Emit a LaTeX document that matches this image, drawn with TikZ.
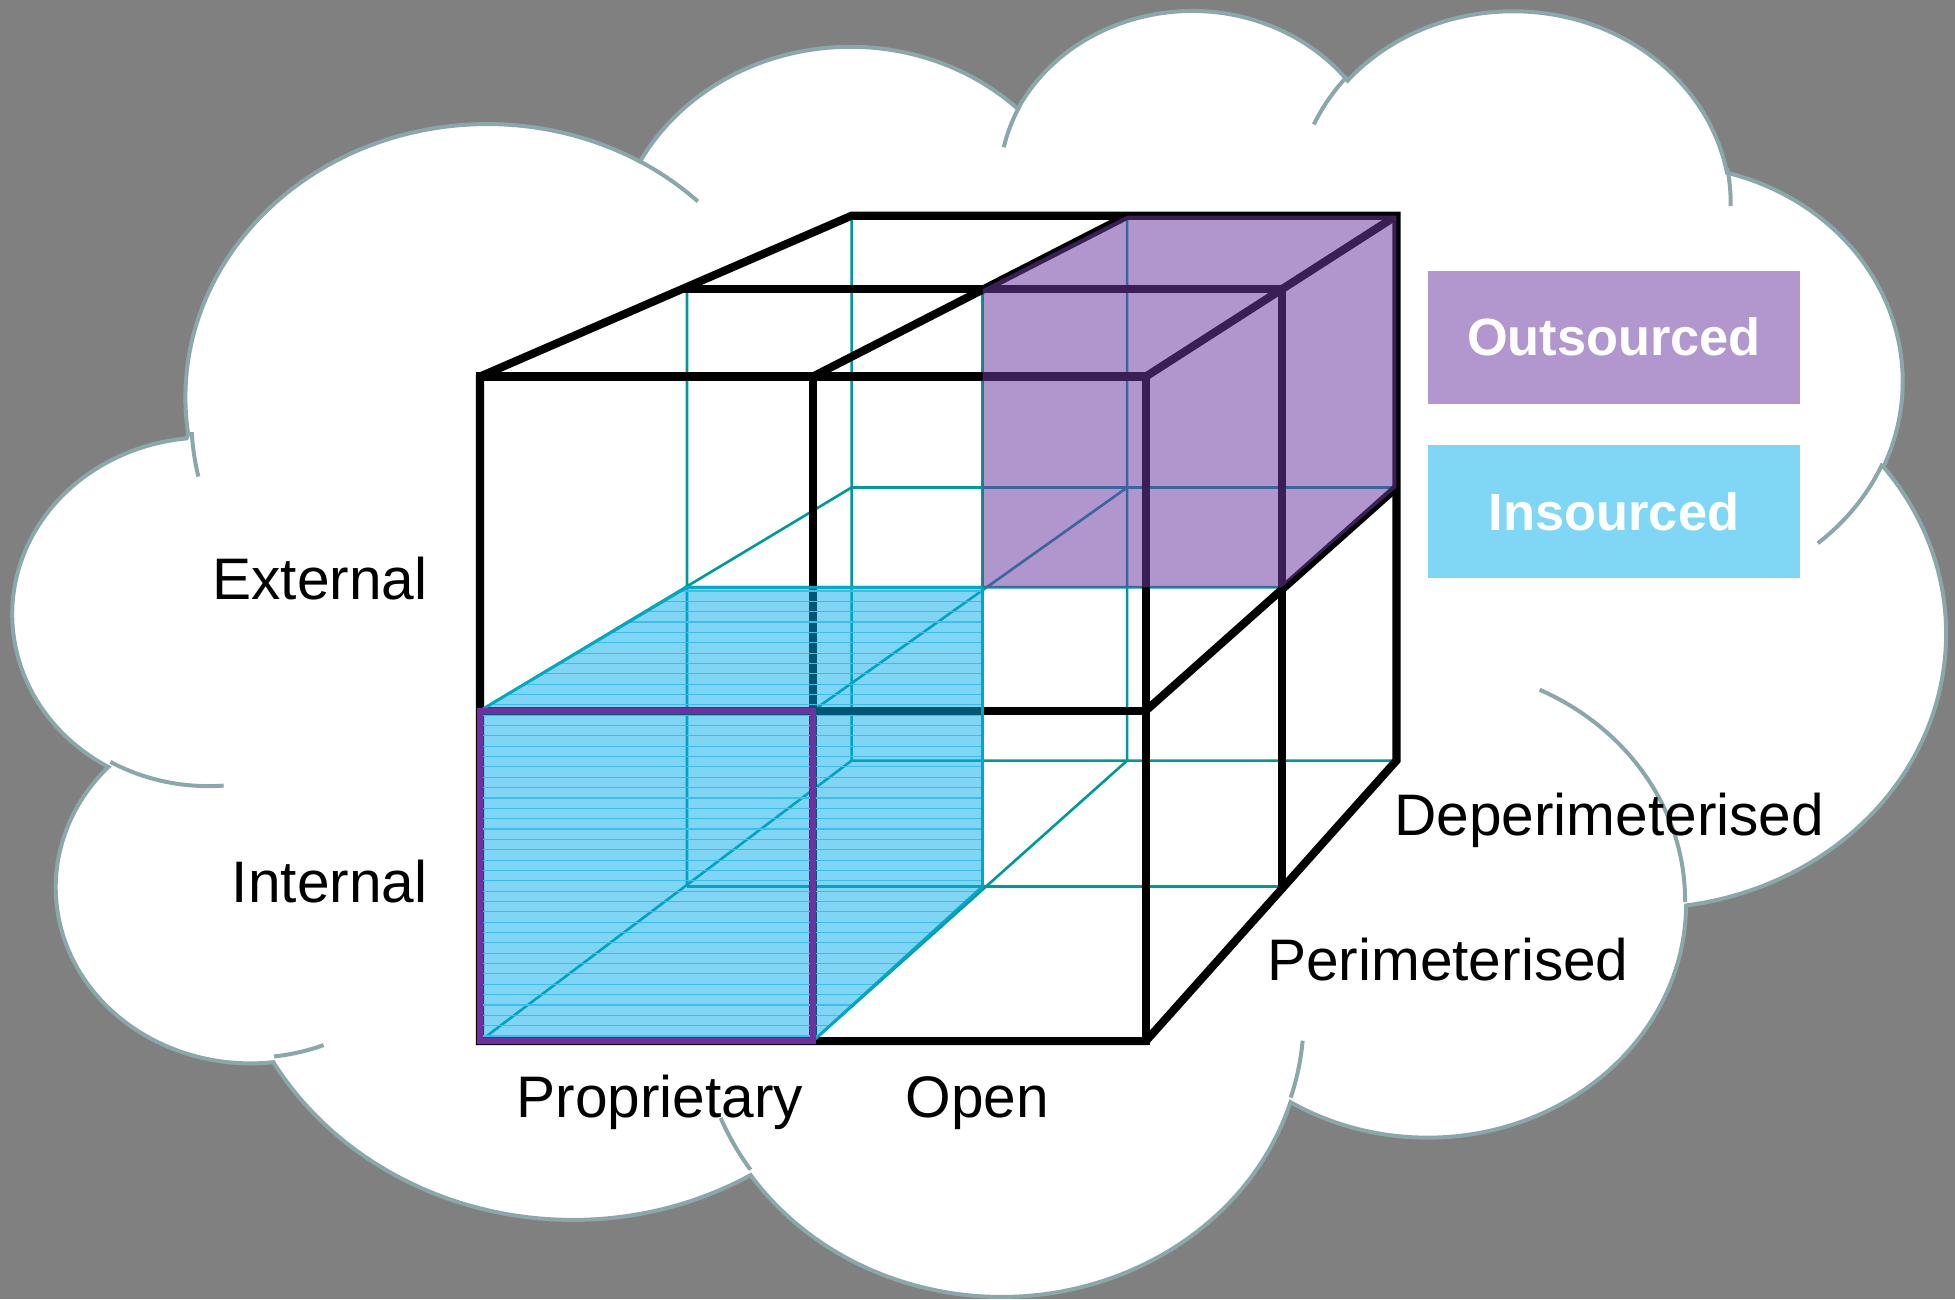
\documentclass[tikz,border=0pt]{standalone}
\usepackage{fontspec}
\setmainfont{Liberation Sans}

\definecolor{bggray}{RGB}{128,128,128}
\definecolor{cloudline}{RGB}{138,167,170}
\definecolor{tealline}{RGB}{0,153,153}
\definecolor{cyanbase}{RGB}{2,173,235}
\definecolor{purplebase}{RGB}{110,58,163}
\definecolor{legpurple}{RGB}{178,150,206}
\definecolor{legcyan}{RGB}{128,214,245}
\definecolor{outlinepurple}{RGB}{112,48,160}
\definecolor{cyanedge}{RGB}{0,168,200}
\definecolor{hatchcyan}{RGB}{60,190,235}

% cloud geometry (PowerPoint-like cloud, path space 43200 x 43200)
\newcommand\cldsx{0.035858}
\newcommand\cldsy{0.02386}
\newcommand\cldx{11.1}
\newcommand\cldy{5.5}
% point given in thousands of path units
\newcommand\cldpt[2]{({\cldx+#1*35.858},{\cldy+#2*23.86})}
\newcommand\cldarc[4]{%
  \pgfextra{%
    \pgfmathsetmacro\cldTs{atan2(#1*sin(#3),#2*cos(#3))}%
    \pgfmathsetmacro\cldTe{atan2(#1*sin(#3+#4),#2*cos(#3+#4))}%
    \pgfmathsetmacro\cldD{mod((\cldTe)-(\cldTs)+720,360)}%
    \pgfmathsetmacro\cldRx{#1*\cldsx}%
    \pgfmathsetmacro\cldRy{#2*\cldsy}%
    \pgfmathsetmacro\cldS{0-(\cldTs)}%
    \pgfmathsetmacro\cldDn{0-(\cldD)}%
    \xdef\cldGS{\cldS}\xdef\cldGD{\cldDn}\xdef\cldGRx{\cldRx}\xdef\cldGRy{\cldRy}%
  }%
  arc[start angle=\cldGS, delta angle=\cldGD, x radius=\cldGRx pt, y radius=\cldGRy pt]}

\begin{document}
\begin{tikzpicture}[x=1pt,y=-1pt,
  cloud/.style={draw=cloudline, line width=3.2pt, fill=white},
  cloudarc/.style={draw=cloudline, line width=3.2pt},
  blackedge/.style={draw=black, line width=6.5pt},
  tealedge/.style={draw=tealline, line width=2.1pt},
  hatch/.style={draw=hatchcyan, line width=0.9pt},
  lbl/.style={font=\fontsize{47}{56}\selectfont, inner sep=0pt, text=black},
  legendbox/.style={minimum width=299pt, minimum height=107pt, inner sep=0pt,
    text=white, font=\bfseries\fontsize{42}{50}\selectfont}]

\path[use as bounding box, fill=bggray] (0,0) rectangle (1568,1042);

% ---------- cloud ----------
\draw[cloud] \cldpt{3.900}{14.370}
  \cldarc{6753}{9190}{-190.48748}{123.78053}
  \cldarc{5333}{7267}{-144.10238}{89.94523}
  \cldarc{4365}{5945}{-145.80792}{99.72302}
  \cldarc{4857}{6595}{-130.98607}{117.24173}
  \cldarc{5333}{7273}{-78.70888}{109.02692}
  \cldarc{6775}{9220}{-46.26725}{130.269}
  \cldarc{5785}{7867}{0.62502}{114.03333}
  \cldarc{6752}{9215}{22.4516}{115.17255}
  \cldarc{7720}{10543}{66.24263}{75.71102}
  \cldarc{4360}{5918}{-274.94208}{146.73557}
  \cldarc{4345}{5945}{-246.8285}{152.51885}
  -- cycle;
\draw[cloudarc] \cldpt{4.693}{26.177} \cldarc{4345}{5945}{86.742}{26.4295};
\draw[cloudarc] \cldpt{6.928}{34.899} \cldarc{4360}{5918}{73.61047}{11.44747};
\draw[cloudarc] \cldpt{16.478}{39.090} \cldarc{6752}{9215}{137.62415}{14.0811};
\draw[cloudarc] \cldpt{28.827}{34.751} \cldarc{6752}{9215}{6.45327}{15.99835};
\draw[cloudarc] \cldpt{34.129}{22.954} \cldarc{5785}{7867}{-70.29235}{70.91737};
\draw[cloudarc] \cldpt{41.798}{15.354} \cldarc{5333}{7273}{30.31803}{27.7515};
\draw[cloudarc] \cldpt{38.324}{5.426} \cldarc{4857}{6595}{-13.74433}{14.8589};
\draw[cloudarc] \cldpt{29.078}{3.952} \cldarc{4857}{6595}{-149.18145}{18.19537};
\draw[cloudarc] \cldpt{22.141}{4.720} \cldarc{4365}{5945}{-163.49427}{17.68635};
\draw[cloudarc] \cldpt{14.000}{5.192} \cldarc{6753}{9190}{-66.70695}{12.31935};
\draw[cloudarc] \cldpt{4.127}{15.789} \cldarc{6753}{9190}{163.38602}{12.59018};

% ---------- grid points g<column><row><layer> ----------
\coordinate (g000) at (385,302); \coordinate (g100) at (652,302); \coordinate (g200) at (919,302);
\coordinate (g010) at (385,570); \coordinate (g110) at (652,570); \coordinate (g210) at (919,570);
\coordinate (g020) at (385,835); \coordinate (g120) at (652,835); \coordinate (g220) at (919,835);
\coordinate (g001) at (551,232); \coordinate (g101) at (788,232); \coordinate (g201) at (1028,232);
\coordinate (g011) at (551,471); \coordinate (g111) at (788,471); \coordinate (g211) at (1028,471);
\coordinate (g021) at (551,711); \coordinate (g121) at (788,711); \coordinate (g221) at (1028,711);
\coordinate (g002) at (683,173); \coordinate (g102) at (904,173); \coordinate (g202) at (1120,173);
\coordinate (g012) at (683,391); \coordinate (g112) at (904,391); \coordinate (g212) at (1120,391);
\coordinate (g022) at (683,610); \coordinate (g122) at (904,610); \coordinate (g222) at (1120,610);

% ---------- hidden (teal) edges ----------
\draw[tealedge] (g011)--(g211) (g021)--(g221) (g001)--(g021) (g101)--(g121)
  (g012)--(g212) (g022)--(g222) (g002)--(g022) (g102)--(g122)
  (g010)--(g012) (g110)--(g112) (g020)--(g022) (g120)--(g122);

% ---------- visible (black) edges ----------
\draw[blackedge, line join=miter] (g020)--(g000)--(g002)--(g202)--(g222)--(g220)--cycle;
\draw[blackedge, line cap=rect] (g000)--(g200) (g200)--(g220) (g100)--(g120)
  (g010)--(g210) (g001)--(g201) (g201)--(g221);
\draw[blackedge, line cap=butt] (g100)--(g102) (g200)--(g202) (g210)--(g212);

% ---------- insourced block ----------
\fill[cyanbase, fill opacity=0.5] (g010)--(g011)--(g111)--(g121)--(g120)--(g020)--cycle;
\begin{scope}
  \clip (g010)--(g011)--(g111)--(g121)--(g120)--(g020)--cycle;
  \foreach \n in {0,...,45} \draw[hatch] (380,{474+8.3*\n}) -- (795,{474+8.3*\n});
\end{scope}
\draw[cyanedge, line width=2.2pt] (g010)--(g011)--(g111)--(g121)--(g120)--(g020)--cycle;

% ---------- outsourced block ----------
\fill[purplebase, fill opacity=0.533] (g101)--(g102)--(g202)--(g212)--(g211)--(g111)--cycle;

\draw[outlinepurple, line width=5pt, line join=miter] (g010) rectangle (g120);

% ---------- labels ----------
\node[lbl, anchor=base east] (ext) at (343,481) {External};
\node[lbl, anchor=base east] (int) at (343,724) {Internal};
\node[lbl, anchor=base west] (prop) at (414,896) {Proprietary};
\node[lbl, anchor=base west] (open) at (726,896) {Open};
\node[lbl, anchor=base west] (deper) at (1118,670) {Deperimeterised};
\node[lbl, anchor=base west] (per) at (1016,786) {Perimeterised};

% ---------- legend ----------
\node[legendbox, fill=legpurple] (outs) at (1294.5,270.5) {Outsourced};
\node[legendbox, fill=legcyan] (ins) at (1294.5,410.2) {Insourced};
\end{tikzpicture}
\end{document}
